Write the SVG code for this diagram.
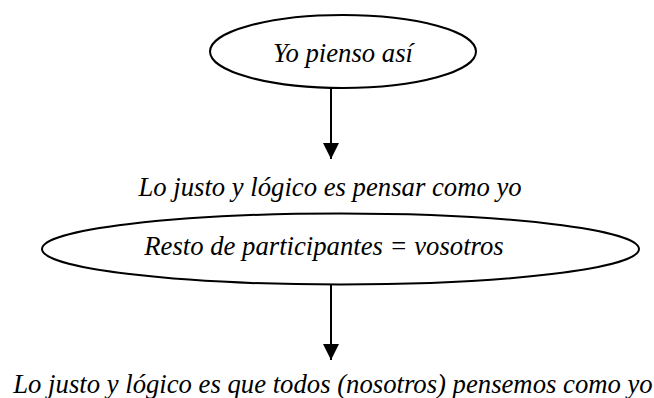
<svg xmlns="http://www.w3.org/2000/svg" width="654" height="398" viewBox="0 0 654 398">
<style>
.n{fill:#fff;stroke:#000;stroke-width:2}
.t{font-family:"Liberation Serif","Times New Roman",serif;font-style:italic;font-size:26.7px;fill:#000;text-anchor:middle}
.c{stroke:#000;stroke-width:2;fill:none}
</style>
<defs>
<marker id="ah" markerUnits="userSpaceOnUse" markerWidth="16" markerHeight="16" refX="16" refY="8" orient="auto">
<path d="M0,0 L16,8 L0,16 Z" fill="#000"/>
</marker>
</defs>
<rect width="654" height="398" fill="#fff"/>
<g id="connectors">
<line class="c" x1="331" y1="88" x2="331" y2="159" marker-end="url(#ah)"/>
<line class="c" x1="331" y1="284.5" x2="331" y2="360" marker-end="url(#ah)"/>
</g>
<g id="node1">
<ellipse class="n" cx="343" cy="51.5" rx="133" ry="36.5"/>
<text class="t" x="343" y="62">Yo pienso así</text>
</g>
<g id="label1">
<text class="t" x="330" y="196">Lo justo y lógico es pensar como yo</text>
</g>
<g id="node2">
<ellipse class="n" cx="340.5" cy="249" rx="298.5" ry="35.5"/>
<text class="t" x="324" y="255">Resto de participantes = vosotros</text>
</g>
<g id="label2">
<text class="t" x="333" y="393">Lo justo y lógico es que todos (nosotros) pensemos como yo</text>
</g>
</svg>
